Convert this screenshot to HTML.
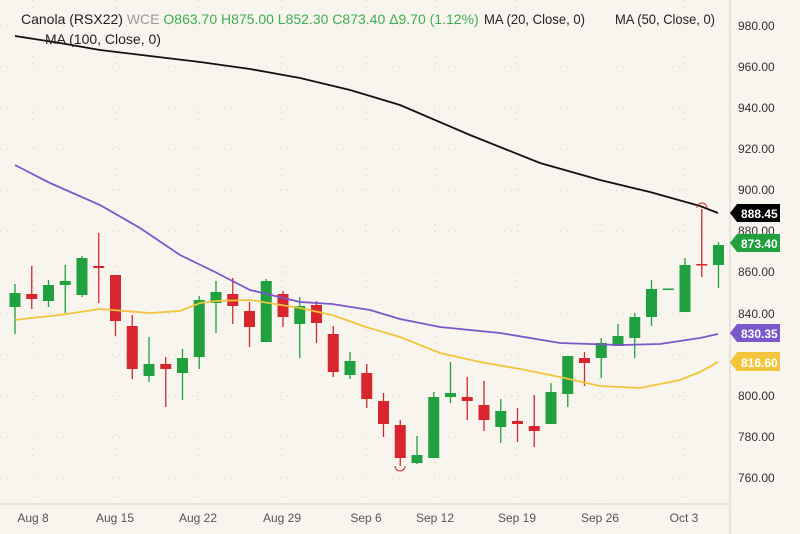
<!DOCTYPE html>
<html><head><meta charset="utf-8"><style>
html,body{margin:0;padding:0;background:#f8f4ee;}
svg{display:block;font-family:"Liberation Sans",sans-serif;}
</style></head><body>
<svg width="800" height="534" viewBox="0 0 800 534" xmlns="http://www.w3.org/2000/svg">
<rect width="800" height="534" fill="#f8f4ee"/>
<g stroke="#d9d4cc" stroke-dasharray="1,6" stroke-width="1">
<line x1="0" y1="26" x2="730" y2="26"/><line x1="0" y1="67" x2="730" y2="67"/><line x1="0" y1="108" x2="730" y2="108"/><line x1="0" y1="149" x2="730" y2="149"/><line x1="0" y1="190" x2="730" y2="190"/><line x1="0" y1="231" x2="730" y2="231"/><line x1="0" y1="272" x2="730" y2="272"/><line x1="0" y1="314" x2="730" y2="314"/><line x1="0" y1="355" x2="730" y2="355"/><line x1="0" y1="396" x2="730" y2="396"/><line x1="0" y1="437" x2="730" y2="437"/><line x1="0" y1="478" x2="730" y2="478"/>
<line x1="33" y1="0" x2="33" y2="504"/><line x1="115" y1="0" x2="115" y2="504"/><line x1="198" y1="0" x2="198" y2="504"/><line x1="282" y1="0" x2="282" y2="504"/><line x1="366" y1="0" x2="366" y2="504"/><line x1="435" y1="0" x2="435" y2="504"/><line x1="517" y1="0" x2="517" y2="504"/><line x1="600" y1="0" x2="600" y2="504"/><line x1="684" y1="0" x2="684" y2="504"/>
</g>
<line x1="730" y1="0" x2="730" y2="534" stroke="#d5d0c8"/>
<line x1="0" y1="504" x2="730" y2="504" stroke="#d5d0c8"/>
<!-- green wicks -->
<path stroke="#21a040" stroke-width="1.3" fill="none" d="M15,284V334 M48.5,280V307 M65.25,265V313 M82,256V297 M149,337V382 M182.5,349V400 M199.25,296V369 M216,281V333 M266.25,279V342 M299.75,297V358 M350,352V379 M417,436V464 M433.75,392V458 M450.5,362V403 M500.75,399V443 M551,383V424 M567.75,356V407 M601.25,338V378 M618,324V346 M634.75,313V358 M651.5,280V326 M685,258V312 M718.5,242V288"/>
<!-- red wicks -->
<path stroke="#d8262f" stroke-width="1.3" fill="none" d="M31.75,266V309 M98.75,233V303 M115.5,275V336 M132.25,315V379 M165.75,357V407 M232.75,278V324 M249.5,302V347 M283,291V327 M316.5,301V343 M333.25,326V377 M366.75,364V408 M383.5,393V437 M400.25,420V466 M467.25,377V420 M484,381V431 M517.5,408V442 M534.25,395V447 M584.5,352V386 M701.75,209V277"/>
<g fill="#21a040">
<rect x="9.5" y="293" width="11" height="14"/>
<rect x="43" y="285" width="11" height="16"/>
<rect x="59.75" y="281" width="11" height="4"/>
<rect x="76.5" y="258" width="11" height="37"/>
<rect x="143.5" y="364" width="11" height="12"/>
<rect x="177" y="358" width="11" height="15"/>
<rect x="193.75" y="300" width="11" height="57"/>
<rect x="210.5" y="292" width="11" height="11"/>
<rect x="260.75" y="281" width="11" height="61"/>
<rect x="294.25" y="306" width="11" height="18"/>
<rect x="344.5" y="361" width="11" height="14"/>
<rect x="411.5" y="455" width="11" height="8"/>
<rect x="428.25" y="397" width="11" height="61"/>
<rect x="445" y="393" width="11" height="4"/>
<rect x="495.25" y="411" width="11" height="16"/>
<rect x="545.5" y="392" width="11" height="32"/>
<rect x="562.25" y="356" width="11" height="38"/>
<rect x="595.75" y="343" width="11" height="15"/>
<rect x="612.5" y="336" width="11" height="10"/>
<rect x="629.25" y="317" width="11" height="21"/>
<rect x="646" y="289" width="11" height="28"/>
<rect x="662.75" y="288.5" width="11" height="1.5"/>
<rect x="679.5" y="265" width="11" height="47"/>
<rect x="713" y="245" width="11" height="20"/>
</g>
<g fill="#d8262f">
<rect x="26.25" y="294" width="11" height="5"/>
<rect x="93.25" y="266" width="11" height="2"/>
<rect x="110" y="275" width="11" height="46"/>
<rect x="126.75" y="326" width="11" height="43"/>
<rect x="160.25" y="364" width="11" height="5"/>
<rect x="227.25" y="294" width="11" height="12"/>
<rect x="244" y="311" width="11" height="16"/>
<rect x="277.5" y="294" width="11" height="23"/>
<rect x="311" y="305" width="11" height="18"/>
<rect x="327.75" y="334" width="11" height="38"/>
<rect x="361.25" y="373" width="11" height="26"/>
<rect x="378" y="401" width="11" height="23"/>
<rect x="394.75" y="425" width="11" height="33"/>
<rect x="461.75" y="397" width="11" height="4"/>
<rect x="478.5" y="405" width="11" height="15"/>
<rect x="512" y="421" width="11" height="3"/>
<rect x="528.75" y="426" width="11" height="5"/>
<rect x="579" y="358" width="11" height="5"/>
<rect x="696.25" y="264" width="11" height="1.5"/>
</g>
<polyline fill="none" stroke="#f2c53d" stroke-width="1.8" points="15,320 31,318 60,315 100,309 150,313 180,311 200,303 216,301 250,300 300,308 332,315 366,327 400,337 440,353 480,362 520,369 560,377 600,386 640,388 680,380 700,372 718,362"/>
<polyline fill="none" stroke="#7b57c9" stroke-width="1.8" points="15,165 50,183 100,205 140,228 180,255 215,272 250,290 300,302 332,304 370,310 400,319 440,327 500,333 560,343 620,345 660,344 700,338 718,334"/>
<polyline fill="none" stroke="#111" stroke-width="1.8" points="15,36 60,43 100,50 150,56 200,62 250,69 300,78 350,90 400,105 470,135 540,163 600,180 650,192 700,206 718,213"/>
<g font-size="12" fill="#333">
<text x="738" y="30">980.00</text><text x="738" y="71">960.00</text><text x="738" y="112">940.00</text><text x="738" y="153">920.00</text><text x="738" y="194">900.00</text><text x="738" y="235">880.00</text><text x="738" y="276">860.00</text><text x="738" y="318">840.00</text><text x="738" y="400">800.00</text><text x="738" y="441">780.00</text><text x="738" y="482">760.00</text>
</g>
<path d="M730,213 L737,204 H780 V222 H737 Z" fill="#000"/><text x="741" y="218" font-size="12" font-weight="bold" fill="#fff">888.45</text>
<path d="M730,243 L737,234 H780 V252 H737 Z" fill="#21a040"/><text x="741" y="248" font-size="12" font-weight="bold" fill="#fff">873.40</text>
<path d="M730,333 L737,324 H780 V342 H737 Z" fill="#7b57c9"/><text x="741" y="338" font-size="12" font-weight="bold" fill="#fff">830.35</text>
<path d="M730,362 L737,352 H780 V371 H737 Z" fill="#f2c53d"/><text x="741" y="367" font-size="12" font-weight="bold" fill="#fff">816.60</text>
<g font-size="12" fill="#555" text-anchor="middle">
<text x="33" y="522">Aug 8</text><text x="115" y="522">Aug 15</text><text x="198" y="522">Aug 22</text><text x="282" y="522">Aug 29</text><text x="366" y="522">Sep 6</text><text x="435" y="522">Sep 12</text><text x="517" y="522">Sep 19</text><text x="600" y="522">Sep 26</text><text x="684" y="522">Oct 3</text>
</g>
<text x="21" y="24" font-size="14"><tspan fill="#222">Canola (RSX22)</tspan><tspan fill="#999"> WCE </tspan><tspan fill="#3cb050"> O863.70 H875.00 L852.30 C873.40 Δ9.70 (1.12%)</tspan></text>
<text x="484" y="24" font-size="14" fill="#222" textLength="101" lengthAdjust="spacingAndGlyphs">MA (20, Close, 0)</text>
<text x="615" y="24" font-size="14" fill="#222" textLength="100" lengthAdjust="spacingAndGlyphs">MA (50, Close, 0)</text>
<text x="45" y="44" font-size="14" fill="#222">MA (100, Close, 0)</text>
<path d="M395,466 A5,5 0 0 0 405,466" fill="none" stroke="#d8262f"/>
<path d="M697,208 A5,5 0 0 1 707,208" fill="none" stroke="#d8262f"/>
</svg>
</body></html>
